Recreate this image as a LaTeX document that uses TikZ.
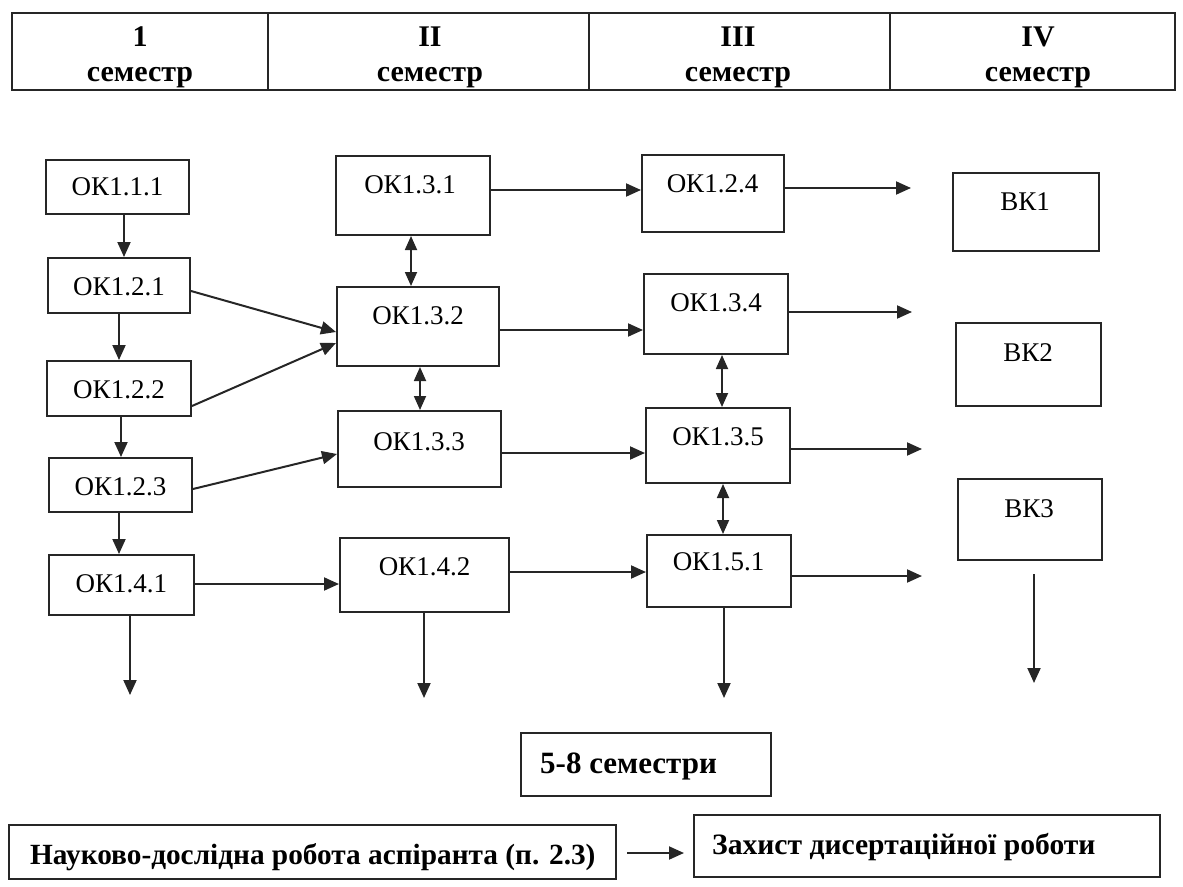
\documentclass[tikz,border=0pt]{standalone}
\usepackage{fontspec}
\setmainfont{Liberation Serif}
\usetikzlibrary{arrows.meta,calc}
\begin{document}
\begin{tikzpicture}[x=1pt,y=-1pt,
  box/.style={draw=black!85, line width=2pt, inner sep=0pt},
  lbl/.style={font=\fontsize{27}{32}\selectfont, inner sep=0pt},
  hdr/.style={font=\fontsize{30}{35}\selectfont\bfseries, align=center, inner sep=0pt},
  btxt/.style={inner sep=0pt},
  arr/.style={draw=black!85, line width=2pt, -{Triangle[length=15pt,width=13pt]}},
  darr/.style={draw=black!85, line width=1.8pt, {Triangle[length=14pt,width=12pt]}-{Triangle[length=14pt,width=12pt]}},
]
\useasboundingbox (0,0) rectangle (1183,886);

% header table
\node[box, minimum width=256pt, minimum height=77pt] (c1) at (140,51.5) {};
\node[box, minimum width=321pt, minimum height=77pt] (c2) at (428.5,51.5) {};
\node[box, minimum width=301pt, minimum height=77pt] (c3) at (739.5,51.5) {};
\node[box, minimum width=285pt, minimum height=77pt] (c4) at (1032.5,51.5) {};
\node[hdr] (t1) at (140,57) {1\\семестр};
\node[hdr] (t2) at (430,57) {II\\семестр};
\node[hdr] (t3) at (738,57) {III\\семестр};
\node[hdr] (t4) at (1038,57) {IV\\семестр};

% boxes
\node[box, minimum width=143pt, minimum height=54pt] (h111) at (117.5,187) {};
\node[box, minimum width=142pt, minimum height=55pt] (h121) at (119,285.5) {};
\node[box, minimum width=144pt, minimum height=55pt] (h122) at (119,388.5) {};
\node[box, minimum width=143pt, minimum height=54pt] (h123) at (120.5,485) {};
\node[box, minimum width=145pt, minimum height=60pt] (h141) at (121.5,585) {};
\node[box, minimum width=154pt, minimum height=79pt] (h131) at (413,195.5) {};
\node[box, minimum width=162pt, minimum height=79pt] (h132) at (418,326.5) {};
\node[box, minimum width=163pt, minimum height=76pt] (h133) at (419.5,449) {};
\node[box, minimum width=169pt, minimum height=74pt] (h142) at (424.5,575) {};
\node[box, minimum width=142pt, minimum height=77pt] (h124) at (713,193.5) {};
\node[box, minimum width=144pt, minimum height=80pt] (h134) at (716,314) {};
\node[box, minimum width=144pt, minimum height=75pt] (h135) at (718,445.5) {};
\node[box, minimum width=144pt, minimum height=72pt] (h151) at (719,571) {};
\node[box, minimum width=146pt, minimum height=78pt] (bk1) at (1026,212) {};
\node[box, minimum width=145pt, minimum height=83pt] (bk2) at (1028.5,364.5) {};
\node[box, minimum width=144pt, minimum height=81pt] (bk3) at (1030,519.5) {};
\node[box, minimum width=250pt, minimum height=63pt] (sem) at (646,764.5) {};
\node[box, minimum width=607pt, minimum height=54pt] (nir) at (312.5,852) {};
\node[box, minimum width=466pt, minimum height=62pt] (zah) at (927,846) {};

% labels
\node[lbl] (l111) at (117.5,187) {ОК1.1.1};
\node[lbl] (l121) at (119,286.5) {ОК1.2.1};
\node[lbl] (l122) at (119,390) {ОК1.2.2};
\node[lbl] (l123) at (120.5,487) {ОК1.2.3};
\node[lbl] (l141) at (121.5,584) {ОК1.4.1};
\node[lbl] (l131) at (410,185) {ОК1.3.1};
\node[lbl] (l132) at (418,316) {ОК1.3.2};
\node[lbl] (l133) at (419,442) {ОК1.3.3};
\node[lbl] (l142) at (424.5,567) {ОК1.4.2};
\node[lbl] (l124) at (712.5,184) {ОК1.2.4};
\node[lbl] (l134) at (716,303) {ОК1.3.4};
\node[lbl] (l135) at (718,437) {ОК1.3.5};
\node[lbl] (l151) at (718.5,562) {ОК1.5.1};
\node[lbl] (lb1) at (1025,202) {ВК1};
\node[lbl] (lb2) at (1028,353) {ВК2};
\node[lbl] (lb3) at (1029,509) {ВК3};
\node[btxt, anchor=base west, font=\fontsize{31}{36}\selectfont\bfseries] (lsem) at (540,773) {5-8 семестри};
\node[btxt, anchor=base west, font=\fontsize{29.3}{34}\selectfont\bfseries] (lnir) at (30,864) {Науково-дослідна робота аспіранта (п. 2.3)};
\node[btxt, anchor=base west, font=\fontsize{29.6}{34}\selectfont\bfseries] (lzah) at (712,854) {Захист дисертаційної роботи};

% helper coordinates
\coordinate (x124) at (124,0);
\coordinate (x119) at (119,0);
\coordinate (x121) at (121,0);
\coordinate (x130) at (130,0);
\coordinate (x411) at (411,0);
\coordinate (x420) at (420,0);
\coordinate (x424) at (424,0);
\coordinate (x722) at (722,0);
\coordinate (x723) at (723,0);
\coordinate (x724) at (724,0);
\coordinate (y190) at (0,190);
\coordinate (y188) at (0,188);
\coordinate (y330) at (0,330);
\coordinate (y312) at (0,312);
\coordinate (y453) at (0,453);
\coordinate (y449) at (0,449);
\coordinate (y584) at (0,584);
\coordinate (y572) at (0,572);
\coordinate (y576) at (0,576);
\coordinate (y291) at (0,291);
\coordinate (y332) at (0,332);
\coordinate (y406) at (0,406);
\coordinate (y343) at (0,343);
\coordinate (y489) at (0,489);
\coordinate (y454) at (0,454);
\coordinate (y853) at (0,853);
% free ends
\coordinate (o124) at (911,188);
\coordinate (o134) at (912,312);
\coordinate (o135) at (922,449);
\coordinate (o151) at (922,576);
\coordinate (d141) at (130,695);
\coordinate (d142) at (424,698);
\coordinate (d151) at (724,698);
\coordinate (s3) at (1034,574);
\coordinate (d3) at (1034,683);

% column 1 vertical arrows
\draw[arr] (h111.south -| x124) -- (h121.north -| x124);
\draw[arr] (h121.south -| x119) -- (h122.north -| x119);
\draw[arr] (h122.south -| x121) -- (h123.north -| x121);
\draw[arr] (h123.south -| x119) -- (h141.north -| x119);
% diagonals
\draw[arr] (h121.east |- y291) -- (h132.west |- y332);
\draw[arr] (h122.east |- y406) -- (h132.west |- y343);
\draw[arr] (h123.east |- y489) -- (h133.west |- y454);
% double arrows
\draw[darr] (h131.south -| x411) -- (h132.north -| x411);
\draw[darr] (h132.south -| x420) -- (h133.north -| x420);
\draw[darr] (h134.south -| x722) -- (h135.north -| x722);
\draw[darr] (h135.south -| x723) -- (h151.north -| x723);
% horizontal arrows
\draw[arr] (h131.east |- y190) -- (h124.west |- y190);
\draw[arr] (h132.east |- y330) -- (h134.west |- y330);
\draw[arr] (h133.east |- y453) -- (h135.west |- y453);
\draw[arr] (h141.east |- y584) -- (h142.west |- y584);
\draw[arr] (h142.east |- y572) -- (h151.west |- y572);
% outgoing arrows
\draw[arr] (h124.east |- y188) -- (o124);
\draw[arr] (h134.east |- y312) -- (o134);
\draw[arr] (h135.east |- y449) -- (o135);
\draw[arr] (h151.east |- y576) -- (o151);
% down arrows
\draw[arr] (h141.south -| x130) -- (d141);
\draw[arr] (h142.south -| x424) -- (d142);
\draw[arr] (h151.south -| x724) -- (d151);
\draw[arr] (s3) -- (d3);
% bottom
\draw[arr, shorten <=10pt, shorten >=9pt] (nir.east |- y853) -- (zah.west |- y853);
\end{tikzpicture}
\end{document}
